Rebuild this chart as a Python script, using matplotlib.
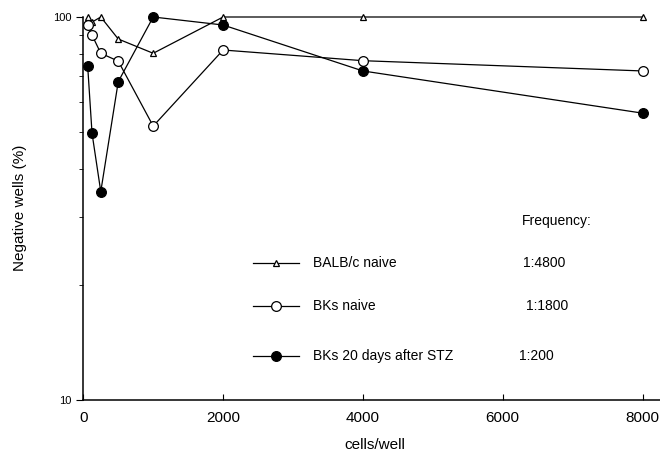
import matplotlib
matplotlib.use("Agg")
import matplotlib.pyplot as plt
from matplotlib.lines import Line2D

plt.rcParams['font.family'] = ['Liberation Sans', 'DejaVu Sans']

cells = [62.5, 125, 250, 500, 1000, 2000, 4000, 8000]
balb_naive = [100, 97, 100, 87.6, 80.4, 100, 100, 100]
bks_naive = [95.3, 89.7, 80.4, 76.7, 51.9, 82.0, 76.9, 72.3]
bks_stz = [74.5, 49.7, 35.0, 67.8, 100, 95.3, 72.3, 56.1]

labels = ["BALB/c naive", "BKs naive", "BKs 20 days after STZ"]
freqs = ["1:4800", "1:1800", "1:200"]

W, H = 660, 466
fig = plt.figure(figsize=(6.6, 4.66), dpi=100)
ax = fig.add_axes([83.3 / W, 1 - 400 / H, 1 - 83.3 / W, (400 - 17) / H])

styles = [dict(marker='^', ms=4.5, mfc='white', mec='black', mew=0.9),
          dict(marker='o', ms=7, mfc='white', mec='black', mew=0.9),
          dict(marker='o', ms=7, mfc='black', mec='black', mew=0.9)]

for ys, st in zip([balb_naive, bks_naive, bks_stz], styles):
    ax.plot(cells, ys, color='black', lw=0.9, clip_on=False, zorder=3, **st)

ax.set_yscale('log')
ax.set_ylim(10, 100)
ax.set_xlim(0, 8250)
ax.set_xticks([0, 2000, 4000, 6000, 8000])
ax.set_yticks([10, 100])
ax.set_yticklabels(['10', '100'])
ax.yaxis.set_minor_formatter(plt.NullFormatter())
ax.tick_params(axis='x', direction='in', length=4, labelsize=11, pad=8)
ax.tick_params(axis='y', which='major', direction='out', length=5, labelsize=8)
ax.tick_params(axis='y', which='minor', direction='out', length=3)
ax.spines['top'].set_visible(False)
ax.spines['right'].set_visible(False)
for s in ['left', 'bottom']:
    ax.spines[s].set_linewidth(1.1)

fig.text(20 / W, 1 - 208 / H, "Negative wells (%)", rotation=90,
         ha='center', va='center', fontsize=11)
fig.text(375 / W, 1 - 445 / H, "cells/well", ha='center', va='center', fontsize=11)

# legend block drawn by hand
fig.text(522 / W, 1 - 221 / H, "Frequency:", ha='left', va='center', fontsize=10)
rows_y = [263, 306, 356]
freq_x = [523, 526, 519]
for y, lab, fr, fx, st in zip(rows_y, labels, freqs, freq_x, styles):
    fy = 1 - y / H
    fig.add_artist(Line2D([253 / W, 299 / W], [fy, fy], color='black', lw=0.9))
    fig.add_artist(Line2D([276 / W], [fy], color='black', **st))
    fig.text(313 / W, fy, lab, ha='left', va='center', fontsize=10)
    fig.text(fx / W, fy, fr, ha='left', va='center', fontsize=10)

fig.savefig("out.png", dpi=100)
